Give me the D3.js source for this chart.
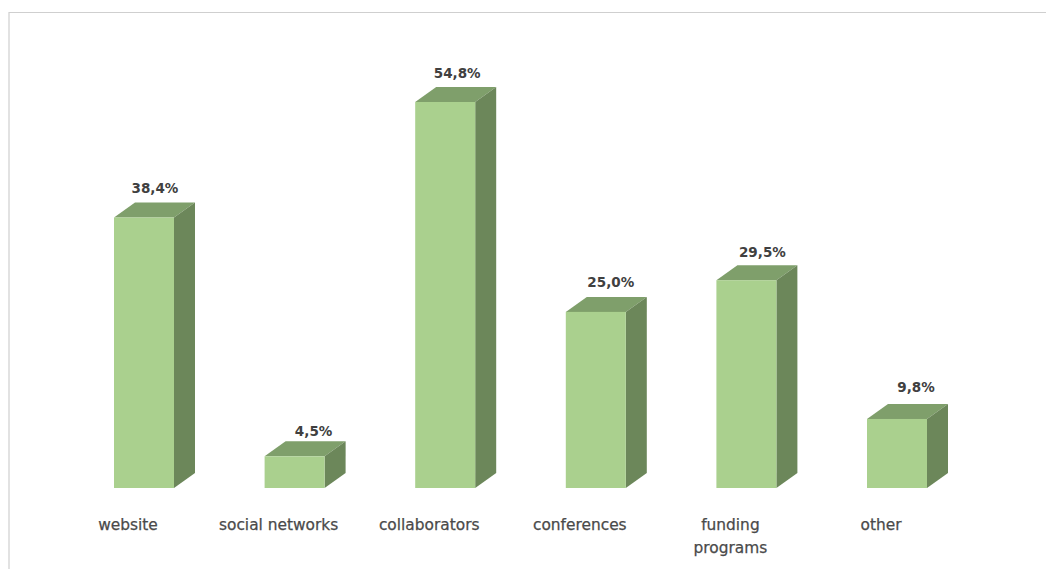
<!DOCTYPE html>
<html>
<head>
<meta charset="utf-8">
<script src="https://cdn.jsdelivr.net/npm/d3@7"></script>
<style>
  html, body { margin: 0; padding: 0; background: #fff; overflow: hidden; }
  text { font-family: "DejaVu Sans", sans-serif; fill: #404040; }
</style>
</head>
<body>
<svg id="chart"></svg>
<script>
var categories = ["website", "social networks", "collaborators", "conferences", "funding programs", "other"];
var values = [38.4, 4.5, 54.8, 25.0, 29.5, 9.8];
var valueLabels = ["38,4%", "4,5%", "54,8%", "25,0%", "29,5%", "9,8%"];

var width = 1046,
  height = 569;
var baseY = 488;
var depthX = 21,
  depthY = 15;

// the value labels were placed by hand in the original
var labelDx = [11, 19, 12, 15, 16, 19];
var labelDy = [24, 20, 24, 24, 23, 26];

var chart = d3.select("#chart").attr("width", width).attr("height", height);

var blur = chart.append("defs").append("filter").attr("id", "soft");
blur.append("feGaussianBlur").attr("stdDeviation", 0.7);

// faint frame round the pasted picture
chart
  .append("path")
  .attr("d", "M9,569V12.5H1046")
  .attr("fill", "none")
  .attr("stroke", "#cfcfcf")
  .attr("stroke-width", 1.2)
  .attr("filter", "url(#soft)");

var x = d3.scaleBand().domain(categories).range([114, 927]).paddingInner(0.6016).paddingOuter(0);
var y = d3.scaleLinear().domain([0, 54.8]).range([baseY, 102]);

var bars = chart
  .selectAll("g.bar")
  .data(categories)
  .enter()
  .append("g")
  .attr("class", "bar")
  .attr("transform", function (d) {
    return "translate(" + x(d) + ",0)";
  });

// top face
bars
  .append("path")
  .attr("fill", "#7f9f6b")
  .attr("d", function (d, i) {
    var t = y(values[i]),
      w = x.bandwidth();
    return "M0," + t + "L" + depthX + "," + (t - depthY) + "H" + (w + depthX) + "L" + w + "," + t + "Z";
  });

// side face
bars
  .append("path")
  .attr("fill", "#6c875a")
  .attr("d", function (d, i) {
    var t = y(values[i]),
      w = x.bandwidth();
    return "M" + w + "," + t + "L" + (w + depthX) + "," + (t - depthY) + "V" + (baseY - depthY) + "L" + w + "," + baseY + "Z";
  });

// front face
bars
  .append("rect")
  .attr("fill", "#aad08e")
  .attr("width", x.bandwidth())
  .attr("y", function (d, i) {
    return y(values[i]);
  })
  .attr("height", function (d, i) {
    return baseY - y(values[i]);
  });

bars
  .append("text")
  .text(function (d, i) {
    return valueLabels[i];
  })
  .attr("text-anchor", "middle")
  .attr("x", function (d, i) {
    return x.bandwidth() / 2 + labelDx[i];
  })
  .attr("y", function (d, i) {
    return y(values[i]) - labelDy[i] - 0.5;
  })
  .attr("font-size", 13.5)
  .attr("font-weight", "bold");

// category labels sit a bit left of the bars
var axis = chart
  .append("g")
  .attr("transform", "translate(-16," + 519 + ")")
  .call(d3.axisBottom(x).tickSize(0).tickPadding(0));

axis.select(".domain").remove();

axis
  .selectAll("text")
  .style("font-family", '"DejaVu Sans", sans-serif')
  .style("font-size", "15.4px")
  .style("fill", "#4a4a4a")
  .style("stroke", "#4a4a4a")
  .style("stroke-width", 0.25)
  .each(function (d) {
    if (d !== "funding programs") return;
    var label = d3.select(this).text(null);
    label.append("tspan").attr("x", 0).attr("dy", "0.71em").text("funding");
    label.append("tspan").attr("x", 0).attr("dy", "1.5em").text("programs");
  });
</script>
</body>
</html>
